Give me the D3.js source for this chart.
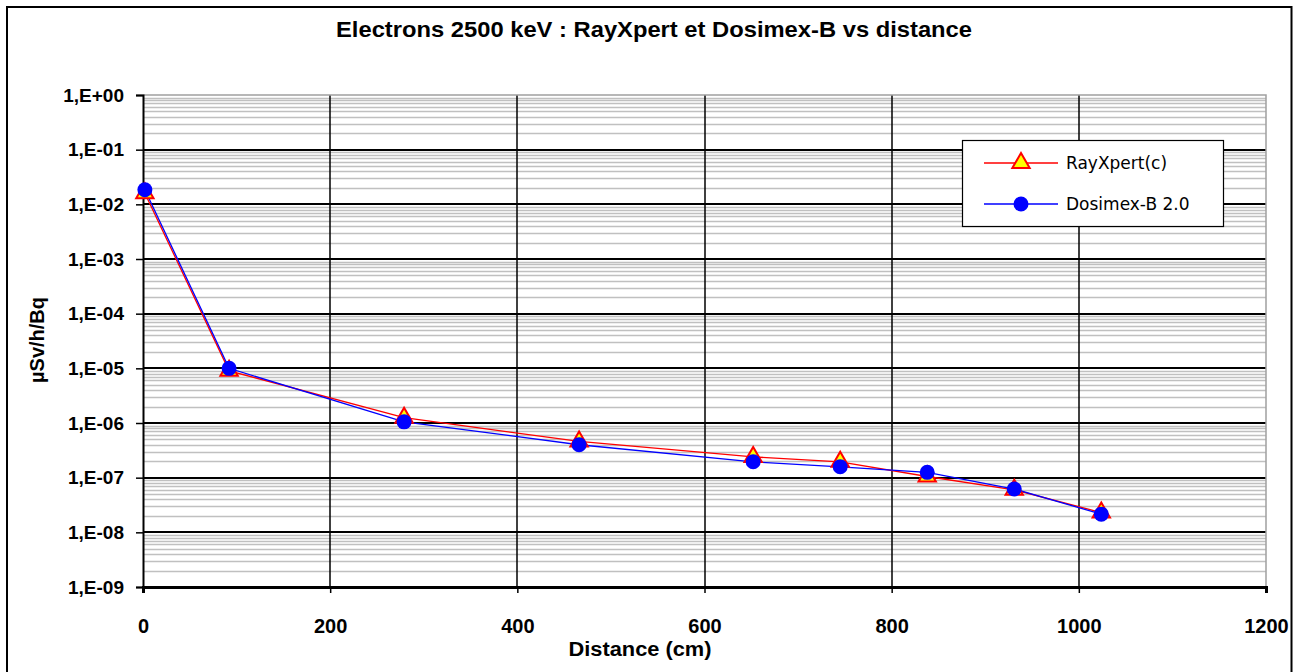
<!DOCTYPE html>
<html>
<head>
<meta charset="utf-8">
<script src="https://cdn.jsdelivr.net/npm/d3@7"></script>
<style>
  body { margin: 0; background: #fff; }
</style>
</head>
<body>
<svg id="chart" width="1301" height="672"></svg>
<script>
// distances (cm)
var distances = [2, 92, 279, 466, 652, 745, 838, 931, 1024];
// dose rates (uSv/h/Bq)
var rayxpert = [1.6e-2, 9.0e-6, 1.25e-6, 4.6e-7, 2.4e-7, 1.95e-7, 1.05e-7, 6.0e-8, 2.3e-8];
var dosimex  = [1.85e-2, 1.0e-5, 1.05e-6, 4.0e-7, 1.95e-7, 1.58e-7, 1.25e-7, 6.2e-8, 2.15e-8];
var xTicks = [0, 200, 400, 600, 800, 1000, 1200];
var yTickLabels = ["1,E+00", "1,E-01", "1,E-02", "1,E-03", "1,E-04", "1,E-05", "1,E-06", "1,E-07", "1,E-08", "1,E-09"];
var seriesNames = ["RayXpert(c)", "Dosimex-B 2.0"];

function drawChart() {
  var svg = d3.select("#chart");
  var bold = "Liberation Sans, Arial, sans-serif";
  var pLeft = 143, pRight = 1266, pTop = 95, pBottom = 587;

  var x = d3.scaleLinear().domain([0, 1200]).range([pLeft, pRight]);
  var y = d3.scaleLog().domain([1e-9, 1]).range([pBottom, pTop]);

  // outer frame
  svg.append("rect")
    .attr("x", 7).attr("y", 7).attr("width", 1284.5).attr("height", 672)
    .attr("fill", "#fff").attr("stroke", "#000").attr("stroke-width", 2);

  // minor horizontal grid
  var minors = [];
  for (var e = -9; e < 0; e++) {
    for (var m = 2; m <= 9; m++) minors.push(m * Math.pow(10, e));
  }
  svg.append("g").selectAll("line").data(minors).enter().append("line")
    .attr("x1", pLeft).attr("x2", pRight)
    .attr("y1", function(d) { return Math.round(y(d)) + 0.5; })
    .attr("y2", function(d) { return Math.round(y(d)) + 0.5; })
    .attr("stroke", "#c0c0c0").attr("stroke-width", 1.5);

  // major horizontal grid
  var majors = yTickLabels.map(function(t, i) { return Math.pow(10, -i); });
  svg.append("g").selectAll("line").data(majors.slice(1)).enter().append("line")
    .attr("x1", pLeft).attr("x2", pRight)
    .attr("y1", function(d) { return Math.round(y(d)); })
    .attr("y2", function(d) { return Math.round(y(d)); })
    .attr("stroke", "#000").attr("stroke-width", 2);

  // vertical grid
  svg.append("g").selectAll("line").data(xTicks.slice(1, -1)).enter().append("line")
    .attr("x1", function(d) { return Math.round(x(d)); })
    .attr("x2", function(d) { return Math.round(x(d)); })
    .attr("y1", pTop).attr("y2", pBottom)
    .attr("stroke", "#000").attr("stroke-width", 1.5);

  // plot area border (top/right grey)
  svg.append("path")
    .attr("d", "M" + pLeft + "," + pTop + "H" + pRight + "V" + pBottom)
    .attr("fill", "none").attr("stroke", "#a0a0a0").attr("stroke-width", 1.5);

  // axes
  var yAxis = d3.axisLeft(y).tickValues(majors)
    .tickFormat(function(d, i) { return yTickLabels[i]; })
    .tickSize(7).tickPadding(12);
  var gy = svg.append("g").attr("transform", "translate(" + pLeft + ",0)").call(yAxis);
  gy.select(".domain").attr("stroke-width", 2);
  gy.selectAll(".tick line").attr("stroke-width", 1.5);
  gy.selectAll("text").attr("font-size", 19).attr("font-weight", "bold")
    .attr("font-family", bold);

  var xAxis = d3.axisBottom(x).tickValues(xTicks).tickFormat(d3.format("d"))
    .tickSize(6).tickPadding(26);
  var gx = svg.append("g").attr("transform", "translate(0," + pBottom + ")").call(xAxis);
  gx.select(".domain").attr("stroke-width", 3);
  gx.selectAll(".tick line").attr("stroke-width", 1.5);
  gx.selectAll("text").attr("font-size", 20).attr("font-weight", "bold")
    .attr("font-family", bold);

  // lines
  var line = d3.line()
    .x(function(d) { return x(d[0]); })
    .y(function(d) { return y(d[1]); });
  var ray = d3.zip(distances, rayxpert);
  var dos = d3.zip(distances, dosimex);

  svg.append("path").datum(ray).attr("d", line)
    .attr("fill", "none").attr("stroke", "#ff0000").attr("stroke-width", 1.3);
  svg.append("path").datum(dos).attr("d", line)
    .attr("fill", "none").attr("stroke", "#0000ff").attr("stroke-width", 1.3);

  var tri = d3.symbol().type(d3.symbolTriangle).size(130);
  svg.append("g").selectAll("path").data(ray).enter().append("path")
    .attr("d", tri)
    .attr("transform", function(d) { return "translate(" + x(d[0]) + "," + y(d[1]) + ")"; })
    .attr("fill", "#ffff00").attr("stroke", "#ff0000").attr("stroke-width", 2);

  svg.append("g").selectAll("circle").data(dos).enter().append("circle")
    .attr("cx", function(d) { return x(d[0]); })
    .attr("cy", function(d) { return y(d[1]); })
    .attr("r", 7.5).attr("fill", "#0000ff");

  // legend
  var lg = svg.append("g").attr("transform", "translate(962,140)");
  lg.append("rect").attr("x", 0.5).attr("y", 0.5).attr("width", 261).attr("height", 86)
    .attr("fill", "#fff").attr("stroke", "#000").attr("stroke-width", 1.2);
  [0, 1].forEach(function(i) {
    var cy = 23 + i * 41;
    lg.append("line").attr("x1", 22).attr("x2", 96).attr("y1", cy).attr("y2", cy)
      .attr("stroke", i === 0 ? "#ff0000" : "#0000ff").attr("stroke-width", 1.3);
    if (i === 0) {
      lg.append("path").attr("d", tri).attr("transform", "translate(59," + cy + ")")
        .attr("fill", "#ffff00").attr("stroke", "#ff0000").attr("stroke-width", 2);
    } else {
      lg.append("circle").attr("cx", 59).attr("cy", cy).attr("r", 7.5).attr("fill", "#0000ff");
    }
    lg.append("text").attr("x", 104).attr("y", cy).attr("dy", "0.35em")
      .attr("font-size", 17).attr("font-family", "DejaVu Sans, Verdana, sans-serif")
      .text(seriesNames[i]);
  });

  // titles
  svg.append("text").attr("x", 654).attr("y", 37).attr("text-anchor", "middle")
    .attr("font-size", 22).attr("font-weight", "bold").attr("font-family", bold)
    .attr("textLength", 636).attr("lengthAdjust", "spacingAndGlyphs")
    .text("Electrons 2500 keV : RayXpert et Dosimex-B vs distance");
  svg.append("text").attr("x", 640).attr("y", 656).attr("text-anchor", "middle")
    .attr("font-size", 20).attr("font-weight", "bold").attr("font-family", bold)
    .attr("textLength", 143).attr("lengthAdjust", "spacingAndGlyphs")
    .text("Distance (cm)");
  svg.append("text").attr("transform", "translate(44,340) rotate(-90)")
    .attr("text-anchor", "middle").attr("font-size", 20).attr("font-weight", "bold")
    .attr("font-family", bold)
    .text("µSv/h/Bq");
}

drawChart();
</script>
</body>
</html>
